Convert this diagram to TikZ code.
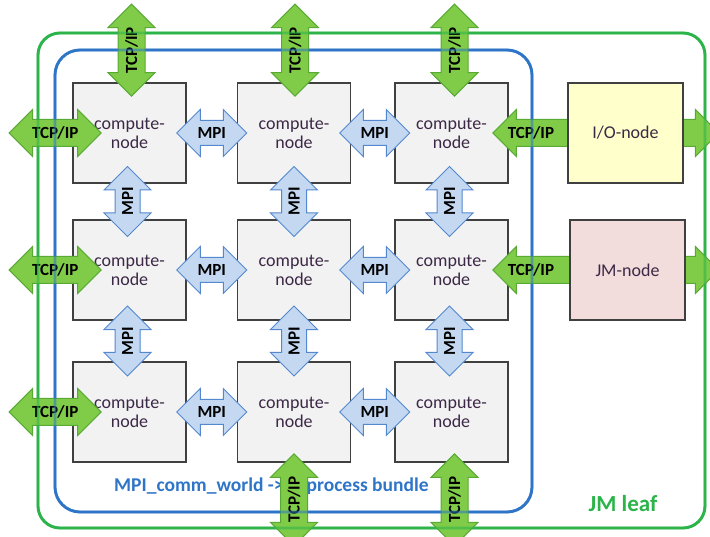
\documentclass[tikz,border=0pt]{standalone}
\usepackage{fontspec}
\setmainfont{Carlito}
\usetikzlibrary{shapes.arrows,calc}
\definecolor{leafgreen}{RGB}{44,180,74}
\definecolor{bundleblue}{RGB}{46,117,200}
\definecolor{tcpfill}{RGB}{128,204,72}
\definecolor{tcpdraw}{RGB}{88,170,52}
\definecolor{mpifill}{RGB}{196,217,241}
\definecolor{mpidraw}{RGB}{84,136,206}
\definecolor{cfill}{RGB}{242,242,242}
\definecolor{iofill}{RGB}{255,255,204}
\definecolor{jmfill}{RGB}{242,221,220}
\definecolor{nodeborder}{RGB}{64,64,64}
\definecolor{nodetext}{RGB}{60,40,70}
\begin{document}
\begin{tikzpicture}[x=1pt,y=-1pt,
  box/.style={draw=nodeborder, line width=1.6pt, minimum width=113pt, minimum height=100pt, inner sep=0pt, align=center, text=nodetext, font=\fontsize{18}{19}\selectfont},
  cbox/.style={box, fill=cfill},
  tcp/.style={double arrow, draw=tcpdraw, fill=tcpfill, line width=1pt, font=\bfseries\fontsize{17}{17}\selectfont, text height=11pt, text depth=0pt, inner xsep=0pt, inner ysep=7.5pt, double arrow head extend=10pt, minimum height=92pt},
  mpi/.style={double arrow, draw=mpidraw, fill=mpifill, line width=1pt, font=\bfseries\fontsize{17}{17}\selectfont, text height=11pt, text depth=0pt, inner xsep=0pt, inner ysep=6.5pt, double arrow head extend=11pt, minimum height=70pt},
  frame/.style={line width=2.8pt},
  greenframe/.style={frame, draw=leafgreen, rounded corners=22pt},
  blueframe/.style={frame, draw=bundleblue, rounded corners=25pt}
]
\useasboundingbox (0,0) rectangle (710,537);
\clip (0,0) rectangle (710,537);
% frames (under)
\draw[greenframe] (38,33) rectangle (705,528);
\draw[blueframe] (55,50) rectangle (532,512);
% compute nodes
\node[cbox] (c11) at (129.5,133) {compute-\\node};
\node[cbox] (c12) at (294,133) {compute-\\node};
\node[cbox] (c13) at (451.5,133) {compute-\\node};
\node[cbox] (c21) at (129.5,270) {compute-\\node};
\node[cbox] (c22) at (294,270) {compute-\\node};
\node[cbox] (c23) at (451.5,270) {compute-\\node};
\node[cbox] (c31) at (129.5,412) {compute-\\node};
\node[cbox] (c32) at (294,412) {compute-\\node};
\node[cbox] (c33) at (451.5,412) {compute-\\node};
% labels
\node[anchor=west, inner sep=0pt, text=bundleblue, font=\bfseries\fontsize{19.5}{19.5}\selectfont] (bundlelbl) at (114,486) {MPI\_comm\_world ->\hspace{23pt}process bundle};
\node[text=leafgreen, font=\bfseries\fontsize{23}{23}\selectfont] (leaflbl) at (623,504) {JM leaf};
% MPI arrows horizontal
\node[mpi] (m1a) at ($(c11)!0.5!(c12)$) {MPI};
\node[mpi] (m1b) at ($(c12)!0.5!(c13)+(2,0)$) {MPI};
\node[mpi] (m2a) at ($(c21)!0.5!(c22)$) {MPI};
\node[mpi] (m2b) at ($(c22)!0.5!(c23)+(2,0)$) {MPI};
\node[mpi] (m3a) at ($(c31)!0.5!(c32)$) {MPI};
\node[mpi] (m3b) at ($(c32)!0.5!(c33)+(2,0)$) {MPI};
% MPI arrows vertical
\node[mpi, rotate=90] (v1a) at ($(c11)!0.5!(c21)+(-2,0)$) {MPI};
\node[mpi, rotate=90] (v1b) at ($(c12)!0.5!(c22)$) {MPI};
\node[mpi, rotate=90] (v1c) at ($(c13)!0.5!(c23)+(-2,0)$) {MPI};
\node[mpi, rotate=90] (v2a) at ($(c21)!0.5!(c31)+(-2,0)$) {MPI};
\node[mpi, rotate=90] (v2b) at ($(c22)!0.5!(c32)$) {MPI};
\node[mpi, rotate=90] (v2c) at ($(c23)!0.5!(c33)+(-2,0)$) {MPI};
% TCP/IP arrows top
\node[tcp, rotate=90] (t1) at ($(c11.north)+(2,-32)$) {TCP/IP};
\node[tcp, rotate=90] (t2) at ($(c12.north)+(1,-32)$) {TCP/IP};
\node[tcp, rotate=90] (t3) at ($(c13.north)+(3,-32)$) {TCP/IP};
% TCP/IP arrows left
\node[tcp] (l1) at ($(c11.west)+(-17,0)$) {TCP/IP};
\node[tcp] (l2) at ($(c21.west)+(-17,0)$) {TCP/IP};
\node[tcp] (l3) at ($(c31.west)+(-17,0)$) {TCP/IP};
% TCP/IP arrows bottom
\node[tcp, rotate=90] (b2) at ($(c32.south)+(0,37)$) {TCP/IP};
\node[tcp, rotate=90] (b3) at ($(c33.south)+(3,37)$) {TCP/IP};
% TCP/IP arrows right (behind I/O and JM nodes)
\node[tcp, minimum height=226pt] (rio) at ($(c13.east)+(97,0)$) {\makebox[0pt][l]{\hspace{-98pt}TCP/IP}};
\node[tcp, minimum height=226pt] (rjm) at ($(c23.east)+(97,0)$) {\makebox[0pt][l]{\hspace{-98pt}TCP/IP}};
% I/O and JM nodes
\node[box, fill=iofill, minimum width=115pt] (io) at (625.5,133) {I/O-node};
\node[box, fill=jmfill, minimum width=115pt] (jm) at (627.5,270) {JM-node};
% frames on top (faint)
\draw[greenframe, draw opacity=0.55] (38,33) rectangle (705,528);
\draw[blueframe, draw opacity=0.55] (55,50) rectangle (532,512);
\end{tikzpicture}
\end{document}
